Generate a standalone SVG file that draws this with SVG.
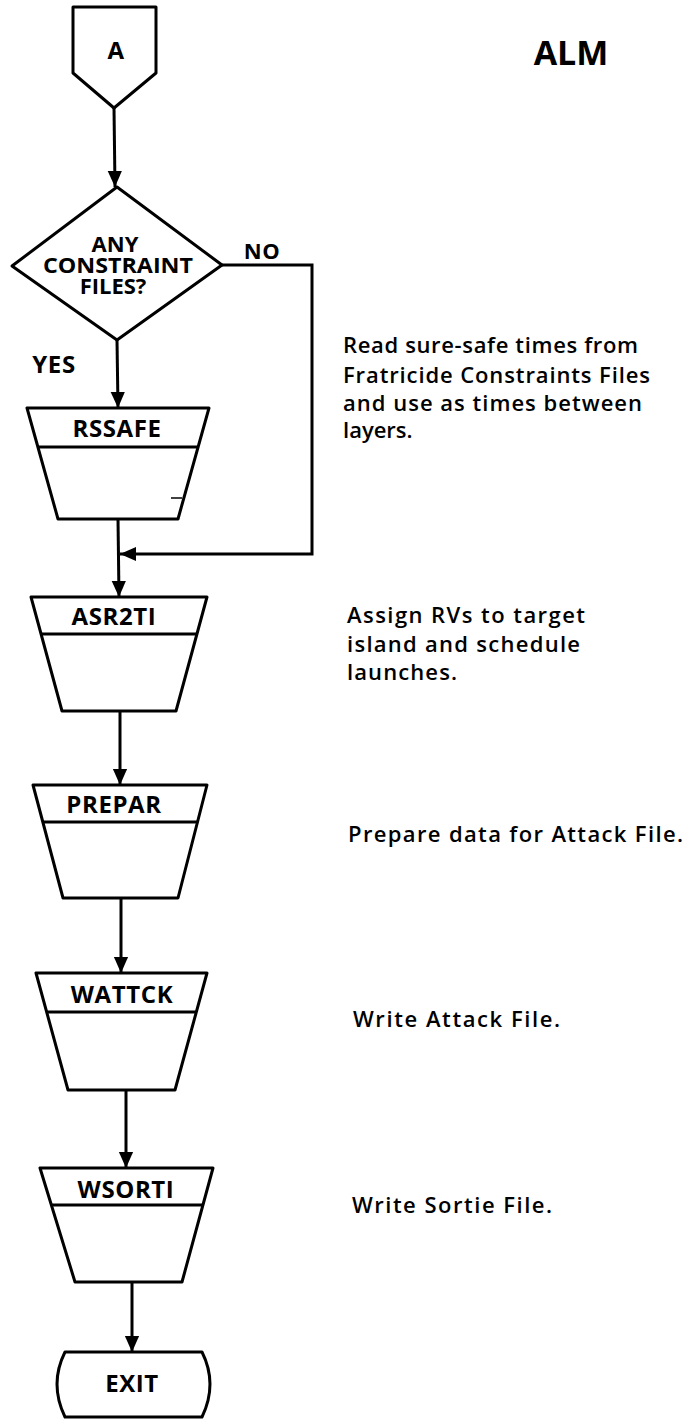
<svg xmlns="http://www.w3.org/2000/svg" width="689" height="1426" viewBox="0 0 689 1426">
<defs>
<style>
.s{fill:#fff;stroke:#000;stroke-width:3;stroke-linejoin:round}
.l{fill:none;stroke:#000;stroke-width:3}
.t{font-family:"Open Sans","Noto Sans",sans-serif;font-weight:700;font-size:24px;letter-spacing:0.6px;fill:#000;text-anchor:middle}
.c{font-family:"Open Sans","Noto Sans",sans-serif;font-weight:700;font-size:22px;fill:#000;text-anchor:middle}
.d{font-family:"Open Sans","Noto Sans",sans-serif;font-weight:600;font-size:22px;fill:#000}
</style>
<marker id="ah" markerUnits="userSpaceOnUse" markerWidth="16" markerHeight="20" viewBox="0 0 18 16" refX="18" refY="8" orient="auto">
<path d="M0,0 L18,8 L0,16 Z" fill="#000"/>
</marker>
</defs>
<rect width="689" height="1426" fill="#fff"/>
<text x="571" y="65" class="t" style="font-size:34px;letter-spacing:0">ALM</text>
<g id="connectors">
<line class="l" x1="114" y1="108" x2="115" y2="187" marker-end="url(#ah)"/>
<line class="l" x1="117" y1="340" x2="118" y2="408" marker-end="url(#ah)"/>
<line class="l" x1="118" y1="519" x2="119" y2="597" marker-end="url(#ah)"/>
<polyline class="l" points="222,265 312,265 312,554 120,554" marker-end="url(#ah)"/>
<line class="l" x1="120" y1="711" x2="120" y2="785" marker-end="url(#ah)"/>
<line class="l" x1="121" y1="898" x2="121" y2="973" marker-end="url(#ah)"/>
<line class="l" x1="126" y1="1090" x2="126" y2="1168" marker-end="url(#ah)"/>
<line class="l" x1="132" y1="1282" x2="132" y2="1352" marker-end="url(#ah)"/>
<text x="262" y="259" class="t" style="font-size:22px">NO</text>
<text x="54" y="373" class="t">YES</text>
</g>
<g id="node-A">
<polygon class="s" points="73,7 156,7 156,73 114,108 73,73"/>
<text x="116" y="59" class="t">A</text>
</g>
<g id="node-decision">
<polygon class="s" points="117,187 222,265 117,340 12,266"/>
<text class="c"><tspan x="115" y="252">ANY</tspan><tspan x="118" y="273" textLength="150" lengthAdjust="spacingAndGlyphs">CONSTRAINT</tspan><tspan x="113" y="294">FILES?</tspan></text>
</g>
<g id="node-RSSAFE">
<polygon class="s" points="27,408 209,408 178,519 58,519"/>
<line class="l" x1="38" y1="447" x2="198" y2="447"/>
<line class="l" x1="171" y1="498" x2="182" y2="498" style="stroke-width:1.5"/>
<text x="117" y="437" class="t">RSSAFE</text>
</g>
<g id="node-ASR2TI">
<polygon class="s" points="31,597 207,597 176,711 62,711"/>
<line class="l" x1="41" y1="634" x2="197" y2="634"/>
<text x="114" y="625" class="t">ASR2TI</text>
</g>
<g id="node-PREPAR">
<polygon class="s" points="33,785 207,785 178,898 63,898"/>
<line class="l" x1="43" y1="822" x2="197" y2="822"/>
<text x="114" y="813" class="t">PREPAR</text>
</g>
<g id="node-WATTCK">
<polygon class="s" points="36,973 207,973 175,1090 68,1090"/>
<line class="l" x1="47" y1="1012" x2="196" y2="1012"/>
<text x="122" y="1003" class="t">WATTCK</text>
</g>
<g id="node-WSORTI">
<polygon class="s" points="40,1168 213,1168 182,1282 75,1282"/>
<line class="l" x1="51" y1="1205" x2="203" y2="1205"/>
<text x="126" y="1198" class="t">WSORTI</text>
</g>
<g id="node-EXIT">
<path class="s" d="M65,1352 L202,1352 Q218,1384 202,1417 L65,1417 Q49,1384 65,1352 Z"/>
<text x="132" y="1392" class="t">EXIT</text>
</g>
<g id="notes">
<text class="d"><tspan x="343" y="353" textLength="295" lengthAdjust="spacing">Read sure-safe times from</tspan><tspan x="343" y="383" textLength="307" lengthAdjust="spacing">Fratricide Constraints Files</tspan><tspan x="343" y="411" textLength="299" lengthAdjust="spacing">and use as times between</tspan><tspan x="343" y="438">layers.</tspan></text>
<text class="d"><tspan x="347" y="623" textLength="238" lengthAdjust="spacing">Assign RVs to target</tspan><tspan x="347" y="652" textLength="233" lengthAdjust="spacing">island and schedule</tspan><tspan x="347" y="680" textLength="110" lengthAdjust="spacing">launches.</tspan></text>
<text class="d" x="348" y="842" textLength="335" lengthAdjust="spacing">Prepare data for Attack File.</text>
<text class="d" x="353" y="1027" textLength="207" lengthAdjust="spacing">Write Attack File.</text>
<text class="d" x="352" y="1213" textLength="200" lengthAdjust="spacing">Write Sortie File.</text>
</g>
</svg>
